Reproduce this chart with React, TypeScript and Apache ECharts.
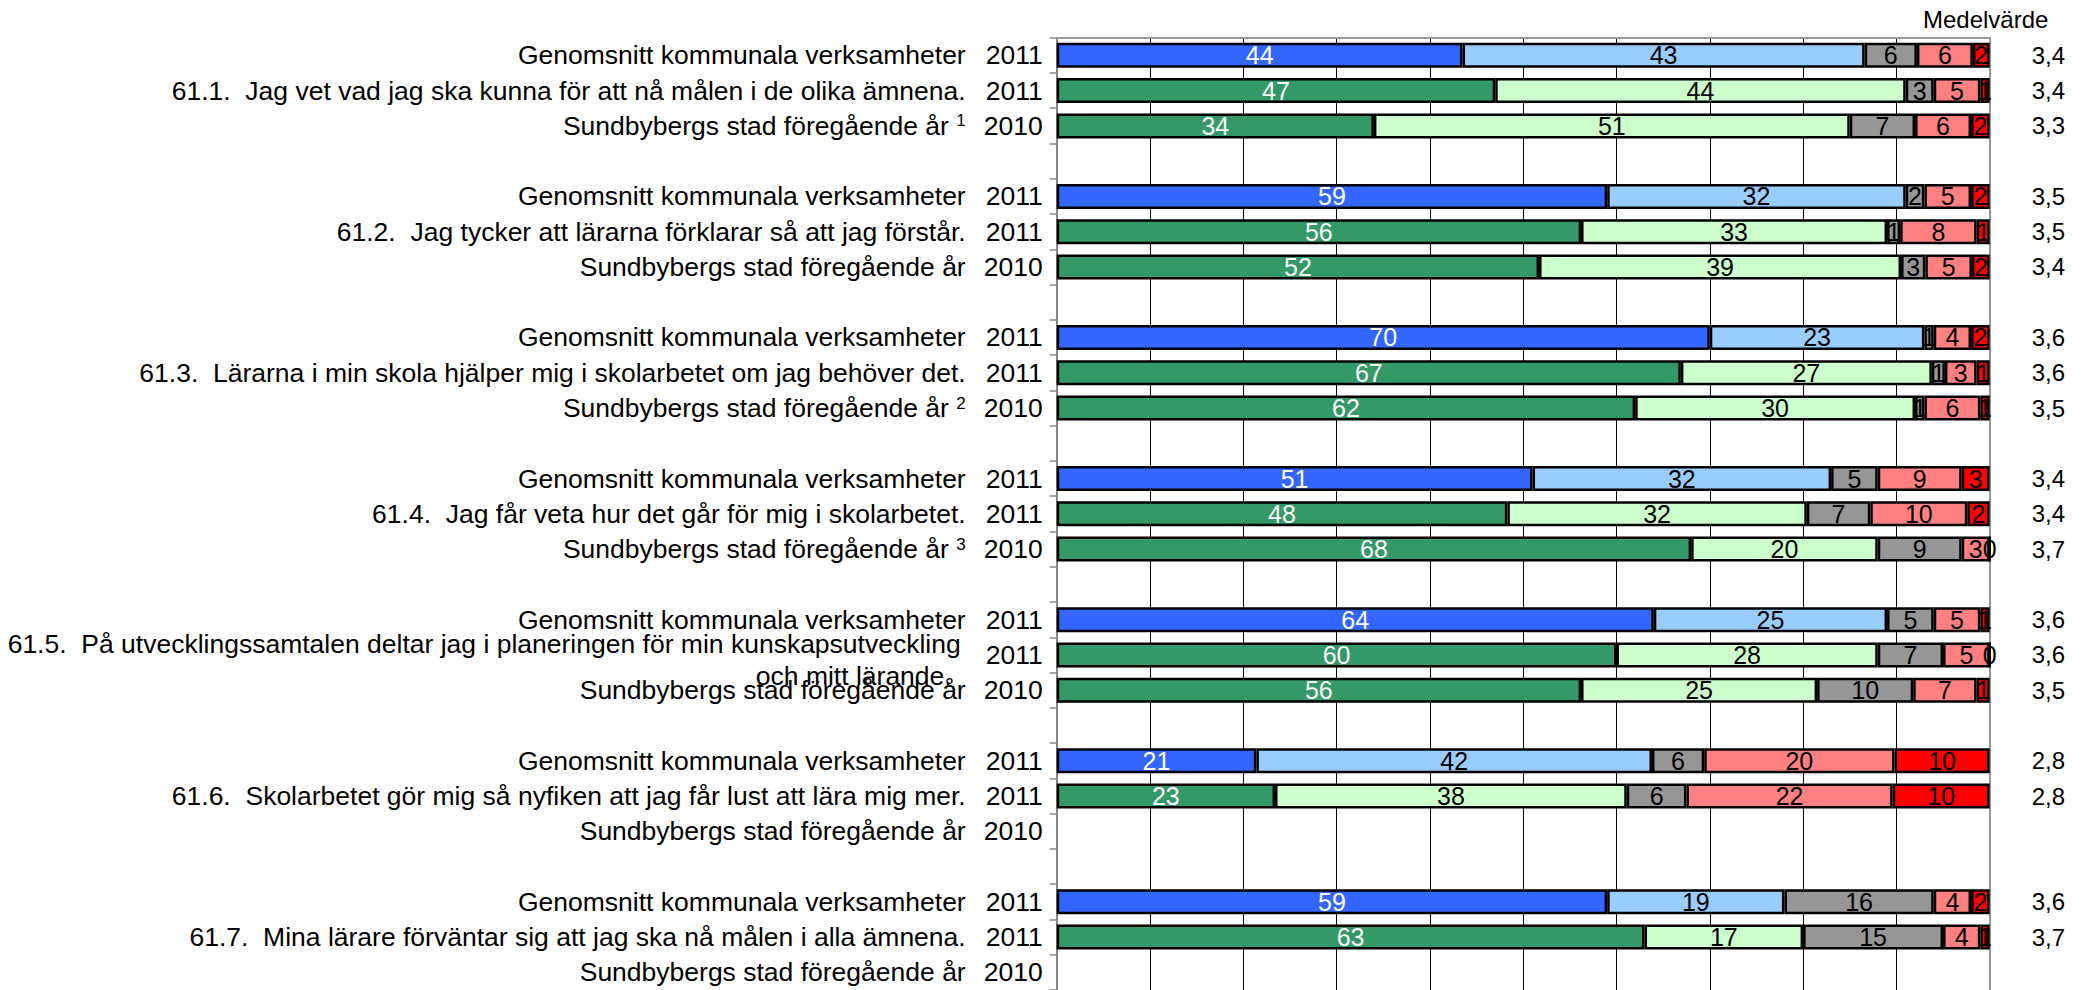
import React, { useEffect, useRef } from 'react';
import * as echarts from 'echarts';

// ---------- Data ----------
const questions = [
  '61.1.  Jag vet vad jag ska kunna för att nå målen i de olika ämnena.',
  '61.2.  Jag tycker att lärarna förklarar så att jag förstår.',
  '61.3.  Lärarna i min skola hjälper mig i skolarbetet om jag behöver det.',
  '61.4.  Jag får veta hur det går för mig i skolarbetet.',
  '61.5.  På utvecklingssamtalen deltar jag i planeringen för min kunskapsutveckling\noch mitt lärande.',
  '61.6.  Skolarbetet gör mig så nyfiken att jag får lust att lära mig mer.',
  '61.7.  Mina lärare förväntar sig att jag ska nå målen i alla ämnena.',
];
const footnotes = ['1', '', '2', '3', '', '', ''];
const avgLabel = 'Genomsnitt kommunala verksamheter';
const prevLabel = 'Sundbybergs stad föregående år';
const avgYear = '2011';
const schoolYear = '2011';
const prevYear = '2010';

const levelNames = ['Mycket positiv', 'Positiv', 'Neutral', 'Negativ', 'Mycket negativ'];

// Genomsnitt kommunala verksamheter 2011
const avgValues: number[][] = [
  [43.5, 43.1, 5.6, 6.0, 1.8],
  [59, 32, 2, 5, 2],
  [70, 23, 1, 4, 2],
  [51, 32, 5, 9, 3],
  [64, 25, 5, 5, 1],
  [21.4, 42.4, 5.6, 20.4, 10.2],
  [59, 19, 16, 4, 2],
];
// Skolan 2011
const schoolValues: number[][] = [
  [47, 44, 3, 5, 1],
  [56.2, 32.8, 1.4, 8.2, 1.4],
  [66.9, 26.9, 1.4, 3.4, 1.4],
  [48.3, 32.1, 6.8, 10.4, 2.4],
  [60, 28, 7, 5, 0],
  [23.4, 37.7, 6.4, 22.1, 10.4],
  [63, 17, 15, 4, 1],
];
// Sundbybergs stad föregående år 2010
const prevValues: (number[] | null)[] = [
  [34, 51, 7, 6, 2],
  [51.7, 38.8, 2.6, 5.0, 1.9],
  [62, 30, 1, 6, 1],
  [68, 20, 9, 3, 0],
  [56.2, 25.3, 10.3, 6.8, 1.4],
  null,
  null,
];
const avgMeans = [3.4, 3.5, 3.6, 3.4, 3.6, 2.8, 3.6];
const schoolMeans = [3.4, 3.5, 3.6, 3.4, 3.6, 2.8, 3.7];
const prevMeans: (number | null)[] = [3.3, 3.4, 3.5, 3.7, 3.5, null, null];

const xTicks = { min: 0, max: 100, interval: 10 };

// ---------- Styles ----------
const FONT = '"Liberation Sans", Arial, sans-serif';
const avgColors = ['#3366FF', '#99CCFF', '#969696', '#FF8080', '#FF0000'];
const schoolColors = ['#339966', '#CCFFCC', '#969696', '#FF8080', '#FF0000'];
const labelColors = ['#FFFFFF', '#000000', '#000000', '#000000', '#000000'];

type Slot = { kind: 'avg' | 'school' | 'prev' | 'gap'; g: number };
const slots: Slot[] = [];
questions.forEach((_, g) => {
  slots.push({ kind: 'avg', g });
  slots.push({ kind: 'school', g });
  slots.push({ kind: 'prev', g });
  if (g < questions.length - 1) slots.push({ kind: 'gap', g });
});

function slotValues(s: Slot): number[] | null {
  if (s.kind === 'avg') return avgValues[s.g];
  if (s.kind === 'school') return schoolValues[s.g];
  if (s.kind === 'prev') return prevValues[s.g];
  return null;
}
function slotMean(s: Slot): number | null {
  if (s.kind === 'avg') return avgMeans[s.g];
  if (s.kind === 'school') return schoolMeans[s.g];
  if (s.kind === 'prev') return prevMeans[s.g];
  return null;
}

export default function App() {
  const ref = useRef<HTMLDivElement>(null);
  useEffect(() => {
    if (!ref.current) return;
    const chart = echarts.init(ref.current, undefined, { renderer: 'svg' });
    const cats = slots.map((_, i) => 's' + i);

    const series = levelNames.map((name, k) => ({
      name,
      type: 'bar',
      stack: 'total',
      yAxisIndex: 0,
      barWidth: 25,
      data: slots.map((s) => {
        const v = slotValues(s);
        if (!v) return '-';
        return {
          value: v[k],
          itemStyle: { color: s.kind === 'avg' ? avgColors[k] : schoolColors[k] },
        };
      }),
      itemStyle: { borderColor: '#000', borderWidth: 2.5 },
      label: {
        show: true,
        position: 'inside',
        color: labelColors[k],
        fontFamily: FONT,
        fontSize: 25,
        formatter: (p: any) => String(Math.round(p.value)),
      },
    }));

    const textStyleBase = { fontFamily: FONT, fontSize: 26.5, color: '#000' };

    chart.setOption({
      animation: false,
      backgroundColor: '#fff',
      title: {
        text: 'Medelvärde',
        left: 1918,
        top: 2,
        textStyle: { fontFamily: FONT, fontSize: 24, fontWeight: 'normal', color: '#000' },
      },
      grid: { left: 1056.7, top: 37.7, width: 933, height: 27 * 35.58 },
      xAxis: {
        type: 'value',
        position: 'top',
        min: xTicks.min,
        max: xTicks.max,
        interval: xTicks.interval,
        axisLine: { show: true, lineStyle: { color: '#999', width: 2 } },
        axisTick: { show: false },
        axisLabel: { show: false },
        splitLine: { show: true, lineStyle: { color: '#000', width: 1 } },
      },
      yAxis: [
        {
          type: 'category',
          inverse: true,
          position: 'left',
          data: cats,
          axisLine: { show: true, lineStyle: { color: '#888', width: 2 } },
          axisTick: { show: true, length: 7, lineStyle: { color: '#888', width: 1.5 } },
          axisLabel: {
            interval: 0,
            margin: 14,
            ...textStyleBase,
            formatter: (_v: string, i: number) => {
              const s = slots[i];
              if (s.kind === 'avg') return avgYear;
              if (s.kind === 'school') return schoolYear;
              if (s.kind === 'prev') return prevYear;
              return '';
            },
          },
        },
        {
          type: 'category',
          inverse: true,
          position: 'left',
          data: cats,
          axisLine: { show: false },
          axisTick: { show: false },
          axisLabel: {
            interval: 0,
            margin: 91,
            ...textStyleBase,
            formatter: (_v: string, i: number) => {
              const s = slots[i];
              if (s.kind === 'gap') return '';
              if (s.kind === 'avg') return `{t|${avgLabel}}`;
              if (s.kind === 'prev') {
                const fn = footnotes[s.g];
                return fn ? `{t|${prevLabel} }{s|${fn}}` : `{t|${prevLabel}}`;
              }
              const q = questions[s.g];
              if (q.includes('\n')) {
                const [a, b] = q.split('\n');
                return `{e| }\n{q1|${a}}\n{q2|${b}}`;
              }
              return `{t|${q}}`;
            },
            rich: {
              t: { ...textStyleBase },
              s: { fontFamily: FONT, fontSize: 17, color: '#000', verticalAlign: 'top' },
              q1: { ...textStyleBase, lineHeight: 32, align: 'right', padding: [0, 5, 0, 0] },
              q2: { ...textStyleBase, lineHeight: 32, align: 'right', padding: [0, 14, 0, 0] },
              e: { fontFamily: FONT, fontSize: 6, lineHeight: 9.2 },
            },
          },
        },
        {
          type: 'category',
          inverse: true,
          position: 'right',
          data: cats,
          axisLine: { show: true, lineStyle: { color: '#999', width: 2 } },
          axisTick: { show: false },
          axisLabel: {
            interval: 0,
            margin: 42,
            fontFamily: FONT,
            fontSize: 24,
            color: '#000',
            formatter: (_v: string, i: number) => {
              const m = slotMean(slots[i]);
              return m == null ? '' : m.toFixed(1).replace('.', ',');
            },
          },
        },
      ],
      series,
    });
    return () => chart.dispose();
  }, []);
  return (
    <div
      ref={ref}
      style={{ position: 'fixed', left: 0, top: 0, width: 2083, height: 990, background: '#fff' }}
    />
  );
}
